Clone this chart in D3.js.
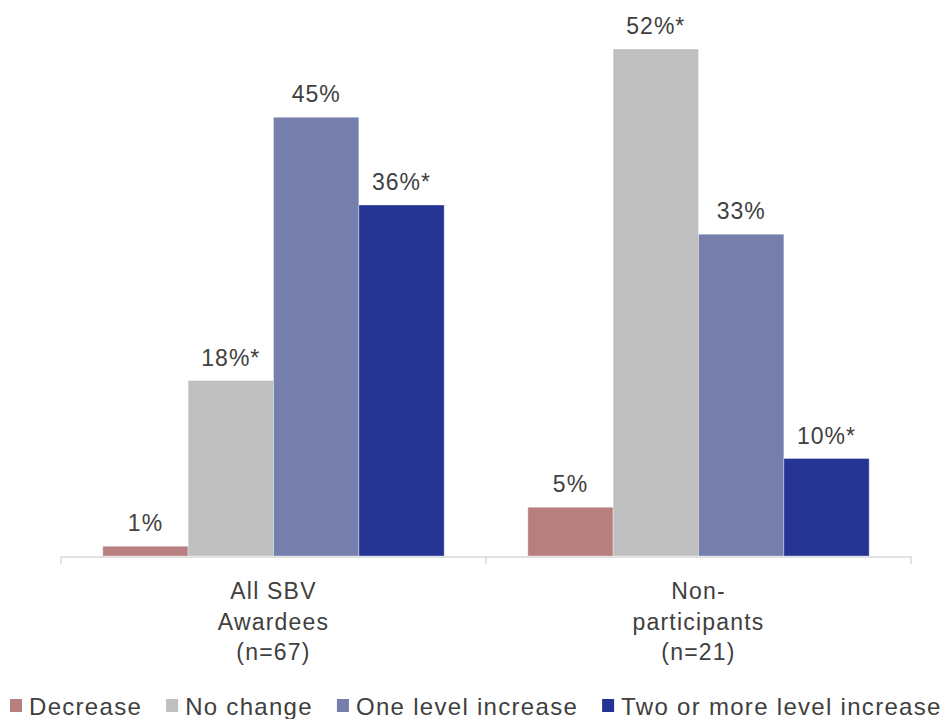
<!DOCTYPE html>
<html>
<head>
<meta charset="utf-8">
<script src="https://cdn.jsdelivr.net/npm/d3@7"></script>
<style>
  html, body { margin: 0; padding: 0; background: #ffffff; }
  svg { display: block; }
  text { font-family: "Liberation Sans", Arial, sans-serif; fill: #404040; }
</style>
</head>
<body>
<svg id="chart" width="943" height="719"></svg>
<script>
// Groups shown along the x axis (each label split over lines)
const groups = ["All SBV|Awardees|(n=67)", "Non-|participants|(n=21)"];
// Response categories
const series = ["Decrease", "No change", "One level increase", "Two or more level increase"];
const colors = ["#B77F7F", "#BFBFBF", "#767FAB", "#253393"];
// Percent values per series, one entry per group
const decrease = [1, 5];
const noChange = [18, 52];
const oneLevel = [45, 33];
const twoPlus = [36, 10];
// Significance markers per series, one entry per group
const marks = [["", ""], ["*", "*"], ["", ""], ["*", "*"]];

const values = [decrease, noChange, oneLevel, twoPlus];

const svg = d3.select("#chart");
const baseY = 556;

const x0 = d3.scaleBand().domain(d3.range(groups.length)).range([61, 911]).paddingInner(0).paddingOuter(0);
const x1 = d3.scaleBand().domain(d3.range(series.length)).range([0, x0.bandwidth()]).paddingInner(0).paddingOuter(0.49);
const y = d3.scaleLinear().domain([0, 52]).range([baseY, 49]);

// Bars with value labels
const g = svg.append("g");
groups.forEach((grp, gi) => {
  series.forEach((s, si) => {
    const v = values[si][gi];
    g.append("rect")
      .attr("x", x0(gi) + x1(si))
      .attr("y", y(v))
      .attr("width", x1.bandwidth())
      .attr("height", baseY - y(v))
      .attr("fill", colors[si])
      .attr("stroke", "rgba(255,255,255,0.35)")
      .attr("stroke-width", 1);
    g.append("text")
      .attr("x", x0(gi) + x1(si) + x1.bandwidth() / 2)
      .attr("y", y(v) - 15)
      .attr("text-anchor", "middle")
      .style("font-size", "23px")
      .style("letter-spacing", "1px")
      .text(v + "%" + marks[si][gi]);
  });
});

// Category axis with separators between groups
const axis = d3.axisBottom(x0).tickSize(0).tickFormat("");
const ax = svg.append("g").attr("transform", `translate(0,${baseY + 0.5})`).call(axis);
ax.select(".domain").attr("stroke", "#D9D9D9").attr("stroke-width", 1.5);
const boundaries = [x0.range()[0]].concat(groups.map((d, i) => x0(i) + x0.bandwidth()));
ax.selectAll(".sep").data(boundaries).enter().append("line")
  .attr("x1", d => d).attr("x2", d => d)
  .attr("y1", 0).attr("y2", 8)
  .attr("stroke", "#D9D9D9").attr("stroke-width", 1.5);

groups.forEach((grp, gi) => {
  const cx = x0(gi) + x0.bandwidth() / 2;
  const t = svg.append("text")
    .attr("x", cx)
    .attr("y", 599)
    .attr("text-anchor", "middle")
    .style("font-size", "23px")
    .style("letter-spacing", "1.2px");
  grp.split("|").forEach((line, li) => {
    t.append("tspan")
      .attr("x", cx)
      .attr("dy", li === 0 ? 0 : 30.5)
      .text(line);
  });
});

// Legend
const legend = svg.append("g").attr("transform", "translate(10,0)");
let lx = 0;
series.forEach((s, si) => {
  legend.append("rect")
    .attr("x", lx).attr("y", 699)
    .attr("width", 12).attr("height", 13)
    .attr("fill", colors[si]);
  const t = legend.append("text")
    .attr("x", lx + 19)
    .attr("y", 715)
    .style("font-size", "24px")
    .style("letter-spacing", "1.3px")
    .text(s);
  lx += 19 + t.node().getComputedTextLength() + 24;
});
</script>
</body>
</html>
